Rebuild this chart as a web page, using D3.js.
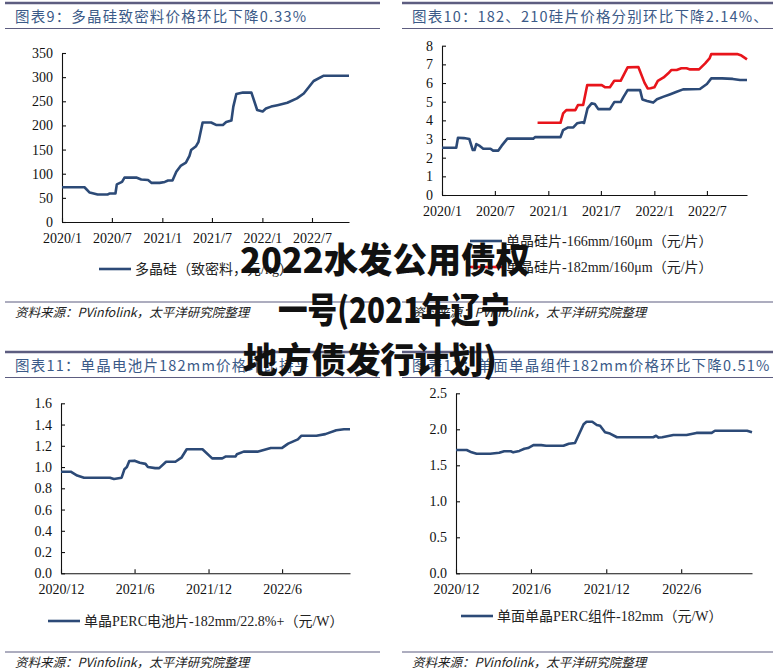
<!DOCTYPE html>
<html>
<head>
<meta charset="utf-8">
<script src="https://cdn.jsdelivr.net/npm/d3@7"></script>
<style>
  body { margin: 0; background: #fff; }
  svg { display: block; }
  .tick text { font-family: "Liberation Serif", "DejaVu Serif", serif; fill: #111; }
</style>
</head>
<body>
<svg id="our-drawing"></svg>
<script>
var w = 773;
var h = 672;

// ---- data ----
var titles = [
  "图表9：多晶硅致密料价格环比下降0.33%",
  "图表10：182、210硅片价格分别环比下降2.14%、",
  "图表11：单晶电池片182mm价格环比持平",
  "图表12：单面单晶组件182mm价格环比下降0.51%"
];
var sourceText = "资料来源：PVinfolink，太平洋研究院整理";

var ticksA = ["2020-01-01", "2020-07-01", "2021-01-01", "2021-07-01", "2022-01-01", "2022-07-01"];
var tickLabelsA = ["2020/1", "2020/7", "2021/1", "2021/7", "2022/1", "2022/7"];
var ticksB = ["2020-12-01", "2021-06-01", "2021-12-01", "2022-06-01"];
var tickLabelsB = ["2020/12", "2021/6", "2021/12", "2022/6"];

var polyName = "多晶硅（致密料，元/kg）";
var polyPrice = [
  ["2020-01-01", 72], ["2020-03-23", 72], ["2020-04-11", 61], ["2020-05-10", 57], ["2020-06-16", 57],
  ["2020-06-22", 59], ["2020-07-14", 59], ["2020-07-19", 78], ["2020-08-07", 83], ["2020-08-16", 92],
  ["2020-09-28", 92], ["2020-10-16", 88], ["2020-11-10", 87], ["2020-11-23", 81], ["2020-12-22", 81],
  ["2021-01-10", 83], ["2021-01-22", 86], ["2021-02-07", 86], ["2021-02-21", 104], ["2021-03-10", 117],
  ["2021-03-28", 123], ["2021-04-10", 137], ["2021-04-16", 149], ["2021-05-04", 157], ["2021-05-13", 166],
  ["2021-05-28", 206], ["2021-06-28", 206], ["2021-07-16", 201], ["2021-08-10", 201], ["2021-08-22", 207],
  ["2021-09-10", 210], ["2021-09-17", 239], ["2021-09-28", 265], ["2021-10-22", 268], ["2021-11-22", 268],
  ["2021-12-13", 232], ["2022-01-02", 229], ["2022-01-14", 235], ["2022-02-02", 239], ["2022-02-25", 242],
  ["2022-04-02", 247], ["2022-05-07", 256], ["2022-06-01", 266], ["2022-07-07", 292], ["2022-08-13", 303],
  ["2022-11-13", 303]
];

var wafer166Name = "单晶硅片-166mm/160μm（元/片）";
var wafer166 = [
  ["2020-01-01", 2.53], ["2020-02-19", 2.53], ["2020-02-25", 3.07], ["2020-03-16", 3.05], ["2020-04-04", 3.0],
  ["2020-04-16", 2.41], ["2020-04-22", 2.41], ["2020-04-28", 2.73], ["2020-05-10", 2.63], ["2020-05-22", 2.48],
  ["2020-06-16", 2.48], ["2020-06-25", 2.38], ["2020-07-13", 2.38], ["2020-07-24", 2.63], ["2020-08-13", 3.02],
  ["2020-11-10", 3.02], ["2020-11-16", 3.1], ["2021-02-12", 3.1], ["2021-02-21", 3.48], ["2021-03-10", 3.62],
  ["2021-03-28", 3.62], ["2021-04-10", 3.84], ["2021-04-28", 3.9], ["2021-05-04", 3.86], ["2021-05-16", 4.64],
  ["2021-05-30", 4.91], ["2021-06-10", 4.88], ["2021-06-22", 4.6], ["2021-08-01", 4.6], ["2021-08-16", 4.98],
  ["2021-09-07", 4.98], ["2021-09-16", 5.23], ["2021-10-01", 5.62], ["2021-11-13", 5.62], ["2021-11-21", 5.12],
  ["2021-12-07", 5.04], ["2021-12-28", 4.95], ["2022-01-10", 5.13], ["2022-02-02", 5.27], ["2022-02-23", 5.39],
  ["2022-03-19", 5.53], ["2022-04-10", 5.66], ["2022-06-07", 5.68], ["2022-07-01", 5.95], ["2022-07-16", 6.25],
  ["2022-08-22", 6.25], ["2022-09-28", 6.22], ["2022-10-23", 6.16], ["2022-11-16", 6.16]
];

var wafer182Name = "单晶硅片-182mm/160μm（元/片）";
var wafer182 = [
  ["2020-11-25", 3.87], ["2021-02-12", 3.87], ["2021-02-21", 4.37], ["2021-03-04", 4.55], ["2021-04-04", 4.55],
  ["2021-04-13", 4.82], ["2021-05-01", 4.82], ["2021-05-15", 5.89], ["2021-07-04", 5.89], ["2021-07-16", 5.77],
  ["2021-08-01", 5.77], ["2021-08-16", 6.12], ["2021-09-07", 6.12], ["2021-10-01", 6.84], ["2021-11-07", 6.86],
  ["2021-11-28", 6.02], ["2021-12-09", 5.71], ["2021-12-19", 5.72], ["2022-01-01", 5.77], ["2022-01-13", 6.12],
  ["2022-02-02", 6.3], ["2022-02-18", 6.52], ["2022-03-01", 6.7], ["2022-03-19", 6.7], ["2022-04-04", 6.79],
  ["2022-04-22", 6.79], ["2022-05-04", 6.73], ["2022-06-04", 6.73], ["2022-06-25", 7.05], ["2022-07-10", 7.32],
  ["2022-07-16", 7.55], ["2022-10-13", 7.55], ["2022-10-28", 7.47], ["2022-11-16", 7.27]
];

var cellName = "单晶PERC电池片-182mm/22.8%+（元/W）";
var cellPrice = [
  ["2020-12-01", 0.956], ["2020-12-25", 0.956], ["2021-01-10", 0.92], ["2021-01-27", 0.90], ["2021-04-01", 0.90],
  ["2021-04-11", 0.887], ["2021-04-30", 0.90], ["2021-05-07", 0.98], ["2021-05-13", 1.0], ["2021-05-19", 1.057],
  ["2021-06-01", 1.06], ["2021-06-14", 1.04], ["2021-06-28", 1.03], ["2021-07-04", 1.0], ["2021-07-22", 0.99],
  ["2021-08-01", 0.99], ["2021-08-18", 1.05], ["2021-09-10", 1.05], ["2021-09-25", 1.088], ["2021-10-08", 1.167],
  ["2021-11-16", 1.167], ["2021-12-10", 1.082], ["2022-01-04", 1.082], ["2022-01-13", 1.10], ["2022-02-06", 1.10],
  ["2022-02-09", 1.12], ["2022-02-26", 1.145], ["2022-04-01", 1.145], ["2022-05-04", 1.18], ["2022-06-01", 1.18],
  ["2022-06-16", 1.22], ["2022-07-10", 1.26], ["2022-07-19", 1.295], ["2022-08-25", 1.295], ["2022-09-16", 1.31],
  ["2022-10-13", 1.346], ["2022-11-01", 1.356], ["2022-11-16", 1.356]
];

var moduleName = "单面单晶PERC组件-182mm（元/W）";
var modulePrice = [
  ["2020-12-01", 1.712], ["2020-12-27", 1.712], ["2021-01-08", 1.68], ["2021-01-20", 1.66], ["2021-02-22", 1.66],
  ["2021-03-16", 1.675], ["2021-03-28", 1.695], ["2021-04-13", 1.695], ["2021-04-19", 1.68], ["2021-05-04", 1.70],
  ["2021-05-16", 1.73], ["2021-05-25", 1.74], ["2021-06-07", 1.78], ["2021-06-26", 1.78], ["2021-07-08", 1.772],
  ["2021-08-19", 1.772], ["2021-09-01", 1.80], ["2021-09-16", 1.81], ["2021-09-25", 1.92], ["2021-10-07", 2.07],
  ["2021-10-14", 2.105], ["2021-10-28", 2.105], ["2021-11-08", 2.06], ["2021-11-16", 2.05], ["2021-11-28", 1.96],
  ["2021-12-10", 1.94], ["2021-12-27", 1.89], ["2022-03-25", 1.89], ["2022-04-01", 1.91], ["2022-04-07", 1.885],
  ["2022-04-16", 1.89], ["2022-05-13", 1.92], ["2022-06-14", 1.92], ["2022-07-08", 1.95], ["2022-08-14", 1.95],
  ["2022-08-22", 1.98], ["2022-11-08", 1.98], ["2022-11-20", 1.96]
];

var overlayLines = ["2022水发公用债权", "一号(2021年辽宁", "地方债发行计划)"];

// ---- drawing ----
var parse = d3.timeParse("%Y-%m-%d");
var blue = "#2c4a77";
var red = "#e8141b";
var rule = "#5d5d80";

var svg = d3.select('#our-drawing')
  .attr('width', w)
  .attr('height', h);

svg.append('rect').attr('width', w).attr('height', h).attr('fill', '#fff');

function header(x0, x1, top, title, under, src, srcY) {
  svg.append('line').attr('x1', x0).attr('x2', x1).attr('y1', top).attr('y2', top)
    .attr('stroke', rule).attr('stroke-width', 2.6);
  svg.append('text').attr('x', x0 + 10).attr('y', top + 19)
    .attr('font-family', '"Noto Sans CJK SC", sans-serif').attr('font-size', 14.5)
    .attr('letter-spacing', 1.2).attr('fill', '#3b5a88')
    .text(title);
  svg.append('line').attr('x1', x0).attr('x2', x1).attr('y1', under).attr('y2', under)
    .attr('stroke', rule).attr('stroke-width', 1.2);
  svg.append('line').attr('x1', x0).attr('x2', x1).attr('y1', srcY).attr('y2', srcY)
    .attr('stroke', rule).attr('stroke-width', 1.2);
  svg.append('text').attr('x', x0 + 10).attr('y', srcY + 15)
    .attr('font-family', '"Noto Sans CJK SC", sans-serif').attr('font-size', 12.5)
    .attr('font-style', 'italic').attr('fill', '#222')
    .text(src);
}

function panel(p) {
  var x = d3.scaleTime().domain([parse(p.start), parse(p.end)]).range([p.left, p.right]);
  var y = d3.scaleLinear().domain([0, p.ymax]).range([p.bottom, p.top]);

  var yAxis = d3.axisLeft(y).tickValues(d3.range(0, p.ymax + p.ystep / 2, p.ystep))
    .tickFormat(d3.format(p.yfmt)).tickSize(-4).tickSizeOuter(0).tickPadding(9);
  var xAxis = d3.axisBottom(x).tickValues(p.ticks.map(parse))
    .tickFormat(function (d, i) { return p.tickLabels[i]; })
    .tickSize(-4).tickSizeOuter(0).tickPadding(11);

  var gy = svg.append('g').attr('transform', 'translate(' + p.left + ',0)').call(yAxis);
  var gx = svg.append('g').attr('transform', 'translate(0,' + p.bottom + ')').call(xAxis);
  [gx, gy].forEach(function (g) {
    g.selectAll('path, line').attr('stroke', '#111').attr('stroke-width', 1.1);
    g.selectAll('text').attr('font-size', 14);
  });

  var line = d3.line()
    .x(function (d) { return x(parse(d[0])); })
    .y(function (d) { return y(d[1]); });

  p.series.forEach(function (s) {
    svg.append('path').datum(s.values)
      .attr('d', line).attr('fill', 'none')
      .attr('stroke', s.color).attr('stroke-width', 2.6)
      .attr('stroke-linejoin', 'round');
    svg.append('line').attr('x1', s.lx).attr('x2', s.lx + 32).attr('y1', s.ly).attr('y2', s.ly)
      .attr('stroke', s.color).attr('stroke-width', 2.6);
    svg.append('text').attr('x', s.lx + 36).attr('y', s.ly + 5)
      .attr('font-family', '"Liberation Serif", "Noto Sans CJK SC", serif').attr('font-size', 14)
      .attr('fill', '#222')
      .text(s.name);
  });
}

header(5, 380, 3, titles[0], 28.5, sourceText, 302);
header(402, 773, 3, titles[1], 28.5, sourceText, 302);
header(5, 380, 352, titles[2], 377.5, sourceText, 652);
header(402, 773, 352, titles[3], 377.5, sourceText, 652);

panel({ start: "2020-01-01", end: "2022-11-13", left: 62, right: 349, top: 53, bottom: 222,
  ymax: 350, ystep: 50, yfmt: "d", ticks: ticksA, tickLabels: tickLabelsA,
  series: [{ values: polyPrice, color: blue, name: polyName, lx: 99, ly: 269 }] });

panel({ start: "2020-01-01", end: "2022-11-16", left: 442, right: 747, top: 45.7, bottom: 195,
  ymax: 8, ystep: 1, yfmt: "d", ticks: ticksA, tickLabels: tickLabelsA,
  series: [{ values: wafer166, color: blue, name: wafer166Name, lx: 470, ly: 241 },
           { values: wafer182, color: red, name: wafer182Name, lx: 470, ly: 267 }] });

panel({ start: "2020-12-01", end: "2022-11-16", left: 61, right: 350, top: 403.3, bottom: 573.3,
  ymax: 1.6, ystep: 0.2, yfmt: ".1f", ticks: ticksB, tickLabels: tickLabelsB,
  series: [{ values: cellPrice, color: blue, name: cellName, lx: 48, ly: 621 }] });

panel({ start: "2020-12-01", end: "2022-11-20", left: 456, right: 752, top: 393.3, bottom: 573.3,
  ymax: 2.5, ystep: 0.5, yfmt: ".1f", ticks: ticksB, tickLabels: tickLabelsB,
  series: [{ values: modulePrice, color: blue, name: moduleName, lx: 461, ly: 616 }] });

// big black overlay text
var overlay = svg.append('g');
var overlayX = [240, 278, 243];
var overlayW = [290, 232, 254];
overlay.selectAll('text')
  .data(overlayLines)
.enter().append('text')
  .attr('x', function (d, i) { return overlayX[i]; })
  .attr('y', function (d, i) { return 273 + i * 50; })
  .attr('textLength', function (d, i) { return overlayW[i]; })
  .attr('lengthAdjust', 'spacingAndGlyphs')
  .attr('font-family', '"Noto Sans CJK SC", sans-serif')
  .attr('font-weight', 900)
  .attr('font-size', 35)
  .attr('fill', '#111')
  .text(function (d) { return d; });
</script>
</body>
</html>
